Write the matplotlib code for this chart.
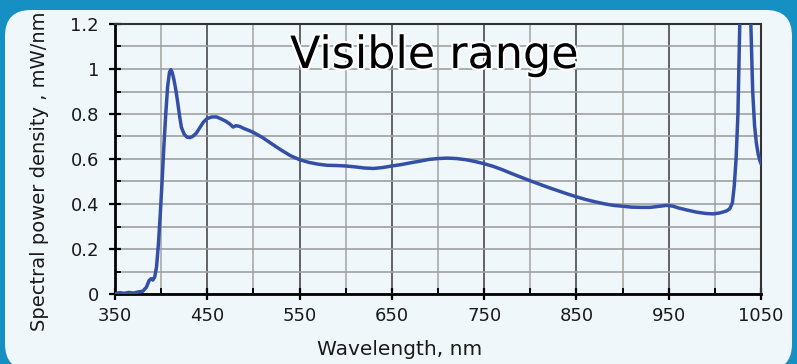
import matplotlib
matplotlib.use("Agg")
import matplotlib.pyplot as plt
import matplotlib.patheffects as pe
from matplotlib.patches import FancyBboxPatch
from matplotlib.ticker import MultipleLocator, FuncFormatter

wavelength = [350, 355, 360, 365, 370, 375, 380, 384, 387, 389, 391, 393, 395, 397, 399,
              401, 403, 405, 407, 409, 410.5, 412, 414, 416, 418, 420, 422, 425, 428, 431,
              434, 438, 442, 446, 450, 455, 460, 465, 470, 474, 478, 481, 485, 490, 495,
              500, 510, 520, 530, 540, 550, 560, 570, 580, 590, 600, 610, 620, 630, 640,
              650, 660, 670, 680, 690, 700, 710, 720, 730, 740, 750, 760, 770, 780, 790,
              800, 810, 820, 830, 840, 850, 860, 870, 880, 890, 900, 910, 920, 930, 940,
              948, 955, 960, 970, 980, 990, 998, 1005, 1012, 1016, 1019, 1021, 1023, 1025,
              1027, 1030, 1033, 1036, 1039, 1041, 1043, 1045, 1047, 1049, 1050]
power = [0.0, 0.006, 0.003, 0.007, 0.004, 0.009, 0.012, 0.03, 0.06, 0.068, 0.062, 0.075, 0.12, 0.22, 0.35,
         0.5, 0.66, 0.8, 0.92, 0.985, 0.997, 0.985, 0.95, 0.905, 0.85, 0.79, 0.74, 0.71, 0.697, 0.695,
         0.7, 0.714, 0.74, 0.765, 0.78, 0.787, 0.787, 0.778, 0.768, 0.757, 0.742, 0.748, 0.745, 0.735, 0.727,
         0.718, 0.695, 0.667, 0.64, 0.615, 0.597, 0.585, 0.577, 0.572, 0.571, 0.569, 0.565, 0.56, 0.558, 0.562,
         0.569, 0.575, 0.583, 0.59, 0.598, 0.602, 0.604, 0.602, 0.597, 0.589, 0.579, 0.567, 0.552, 0.535, 0.519,
         0.503, 0.488, 0.473, 0.459, 0.445, 0.432, 0.42, 0.41, 0.401, 0.394, 0.39, 0.386, 0.385, 0.385, 0.39,
         0.394, 0.39, 0.383, 0.373, 0.364, 0.358, 0.356, 0.36, 0.368, 0.378, 0.405, 0.48, 0.6, 0.8,
         1.2, 1.8, 2.2, 1.8, 1.2, 0.9, 0.75, 0.67, 0.62, 0.59, 0.58]

x_major = [350, 450, 550, 650, 750, 850, 950, 1050]
y_major = [0, 0.2, 0.4, 0.6, 0.8, 1.0, 1.2]

title = "Visible range"
xlabel = "Wavelength, nm"
ylabel = "Spectral power density , mW/nm"

panel = "#f0f7fa"
outer = "#1690c2"
line_c = "#3350a6"

fig = plt.figure(figsize=(7.97, 3.64), dpi=100)
fig.patch.set_facecolor(outer)

bg = FancyBboxPatch((0.05, -0.06), 7.87, 3.60,
                    boxstyle="round,pad=0,rounding_size=0.26",
                    transform=fig.dpi_scale_trans, facecolor=panel,
                    edgecolor="none", zorder=-10)
fig.patches.append(bg)

ax = fig.add_axes([115/797, 70/364, 646/797, 270/364], zorder=2)
ax.set_facecolor(panel)

ax.plot(wavelength, power, color=line_c, lw=2.5, zorder=3, solid_joinstyle="round")

ax.set_xlim(350, 1050)
ax.set_ylim(0, 1.2)
ax.set_xticks(x_major)
ax.set_yticks(y_major)
ax.xaxis.set_minor_locator(MultipleLocator(50))
ax.yaxis.set_minor_locator(MultipleLocator(0.1))
ax.yaxis.set_major_formatter(FuncFormatter(lambda v, p: "%g" % round(v, 2)))

ax.grid(True, which="minor", axis="x", color="#a8a8a8", lw=1.2)
ax.grid(True, which="major", axis="x", color="#4a4a4a", lw=1.2)
ax.grid(True, which="both", axis="y", color="#a0a0a0", lw=1.2)
ax.set_axisbelow(True)

ax.tick_params(axis="both", which="major", direction="inout", length=9, width=1.6,
               color="black", labelsize=13, labelcolor="#1a1a1a")
ax.tick_params(axis="x", which="major", pad=5)
ax.tick_params(axis="y", which="major", pad=7)
ax.tick_params(axis="both", which="minor", direction="in", length=4, width=1.4, color="black")

for s in ["left", "bottom"]:
    ax.spines[s].set_linewidth(2.0)
    ax.spines[s].set_color("black")
for s in ["top", "right"]:
    ax.spines[s].set_linewidth(1.5)
    ax.spines[s].set_color("#333333")

fig.text(290/797, 296/364, title, fontsize=32, color="black", ha="left", va="baseline",
         path_effects=[pe.withStroke(linewidth=3, foreground="white")], zorder=5)
fig.text(400/797, 9/364, xlabel, fontsize=14.5, color="#1a1a1a", ha="center", va="baseline")
fig.text(40/797, 193/364, ylabel, fontsize=14, color="#1a1a1a", ha="center", va="center",
         rotation=90)

fig.savefig("out.png", dpi=100, facecolor=fig.get_facecolor())
